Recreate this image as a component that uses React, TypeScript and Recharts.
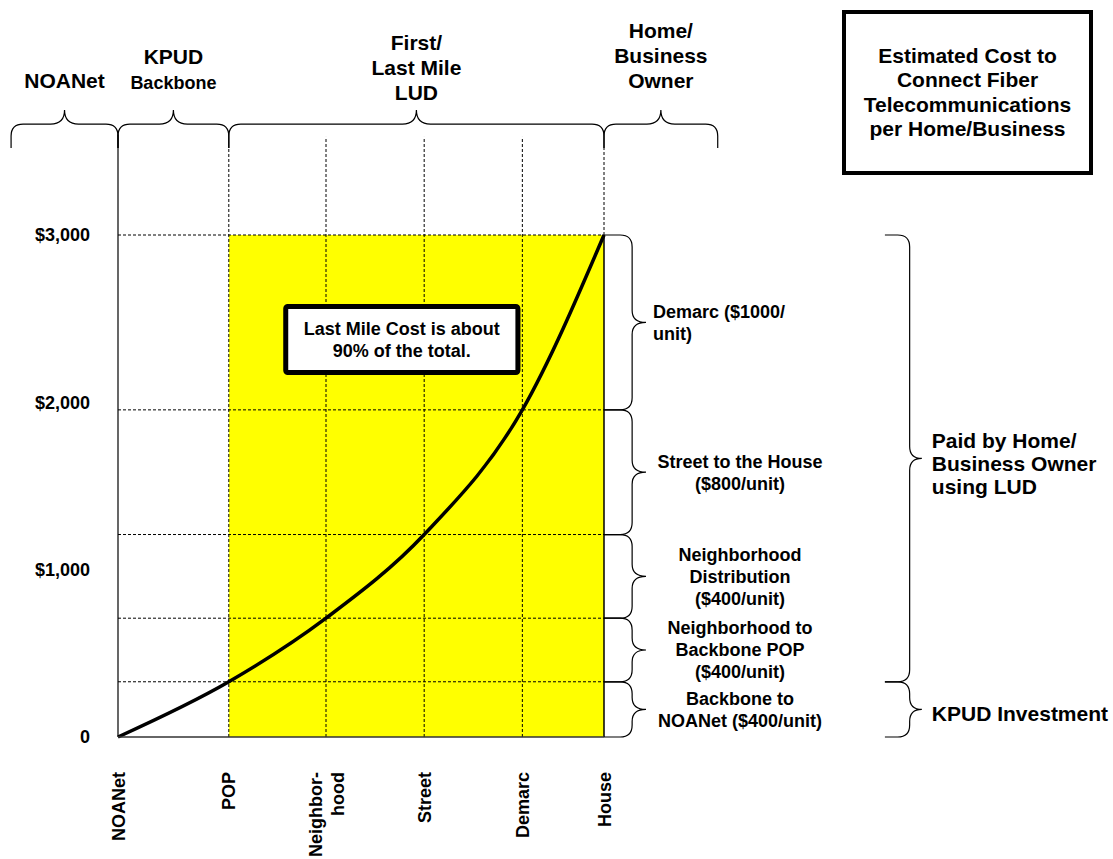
import React from "react";
import { LineChart, Line, XAxis, YAxis, ReferenceArea, ReferenceLine } from "recharts";

// ---- data ----
const stages = ["NOANet", "POP", "Neighbor-\nhood", "Street", "Demarc", "House"];
// where each stage sits on the x axis (NOANet = 0, House = 5)
const stagePos = [0, 1.14, 2.14, 3.15, 4.16, 5];
// cumulative cost per home/business once fiber reaches the stage ($)
const cumulativeCost = [0, 330, 710, 1210, 1955, 3000];
const costTicks = [0, 1000, 2000, 3000];

// one label per cost step, from NOANet->POP (bottom) up to Demarc->House (top)
const stepLabels = [
  ["Backbone to", "NOANet ($400/unit)"],
  ["Neighborhood to", "Backbone POP", "($400/unit)"],
  ["Neighborhood", "Distribution", "($400/unit)"],
  ["Street to the House", "($800/unit)"],
  ["Demarc ($1000/", "unit)"],
];

const payerLabels = [["KPUD Investment"], ["Paid by Home/", "Business Owner", "using LUD"]];
const payerStages = [0, 1, 5]; // stage index where each payer group starts / ends

const phaseLabels = [["NOANet"], ["KPUD", "Backbone"], ["First/", "Last Mile", "LUD"], ["Home/", "Business", "Owner"]];
const phaseEdges = [-1.1, stagePos[0], stagePos[1], stagePos[5], 6.17];

const noteLines = ["Last Mile Cost is about", "90% of the total."];
const titleLines = ["Estimated Cost to", "Connect Fiber", "Telecommunications", "per Home/Business"];

const chartData = stages.map((s, i) => ({ stage: s, x: stagePos[i], cost: cumulativeCost[i] }));

// ---- layout (annotation geometry lives outside the plot, in axis units) ----
const FONT = '"Liberation Sans", Arial, Helvetica, sans-serif';
const HOUSE = stagePos[stagePos.length - 1];
const TOP_BRACE: [number, number] = [3520, 3747];
const GRID_TOP = 3586;
const EDGE_TOP = 3520;
const AXIS_TOP = 3600;
const STEP_BRACE_W = 0.432;
const PAYER_BRACE_X: [number, number] = [7.89, 8.27];
const NOTE_X: [number, number] = [1.7, 4.14];
const NOTE_Y: [number, number] = [2163, 2588];
const PHASE_GAP = [22, 21, 10, 22];
const STEP_ALIGN = ["middle", "middle", "middle", "middle", "start"];
const PAYER_SHIFT = [4, 5];

function sideBracePath(x: number, y: number, w: number, h: number) {
  const vx = x + w * 0.67;
  const tx = x + w;
  const cy = y + h / 2;
  const r = Math.min(12, h / 4, vx - x);
  const t = Math.min(12, h / 4);
  return `M${x},${y} L${vx - r},${y} Q${vx},${y} ${vx},${y + r} L${vx},${cy - t} Q${vx},${cy} ${tx},${cy} Q${vx},${cy} ${vx},${cy + t} L${vx},${y + h - r} Q${vx},${y + h} ${vx - r},${y + h} L${x},${y + h}`;
}

function topBracePath(x: number, y: number, w: number, h: number) {
  const hy = y + h * 0.37;
  const cx = x + w / 2;
  const r = Math.min(12, w / 4);
  const t = Math.min(14, w / 4);
  return `M${x},${y + h} L${x},${hy + r} Q${x},${hy} ${x + r},${hy} L${cx - t},${hy} Q${cx},${hy} ${cx},${y} Q${cx},${hy} ${cx + t},${hy} L${x + w - r},${hy} Q${x + w},${hy} ${x + w},${hy + r} L${x + w},${y + h}`;
}

function PhaseBrace({ x, y, width, height, lines, gap }: any) {
  const cx = x + width / 2;
  return (
    <g>
      <path d={topBracePath(x, y, width, height)} fill="none" stroke="#000" strokeWidth={1.2} />
      <text textAnchor="middle" fontWeight={700} fill="#000">
        {lines.map((l: string, k: number) => (
          <tspan key={k} x={cx} y={y - gap - (lines.length - 1 - k) * 25} fontSize={l === "Backbone" ? 18 : 21}>
            {l}
          </tspan>
        ))}
      </text>
    </g>
  );
}

function StepBrace({ x, y, width, height, lines, align }: any) {
  const cy = y + height / 2;
  const tx = align === "start" ? x + width + 7 : x + width + 94;
  const first = cy - ((lines.length - 1) * 22) / 2 + 6.5;
  return (
    <g>
      <path d={sideBracePath(x, y, width, height)} fill="none" stroke="#000" strokeWidth={1.2} />
      <text textAnchor={align} fontSize={18} fontWeight={700} fill="#000">
        {lines.map((l: string, k: number) => (
          <tspan key={k} x={tx} y={first + k * 22}>
            {l}
          </tspan>
        ))}
      </text>
    </g>
  );
}

function PayerBrace({ x, y, width, height, lines, shift }: any) {
  const cy = y + height / 2 + shift;
  const first = cy - ((lines.length - 1) * 23) / 2 + 7.5;
  return (
    <g>
      <path d={sideBracePath(x, y, width, height)} fill="none" stroke="#000" strokeWidth={1.2} />
      <text fontSize={21} fontWeight={700} fill="#000">
        {lines.map((l: string, k: number) => (
          <tspan key={k} x={x + width + 10} y={first + k * 23}>
            {l}
          </tspan>
        ))}
      </text>
    </g>
  );
}

function NoteBox({ x, y, width, height }: any) {
  const cx = x + width / 2;
  const cy = y + height / 2;
  return (
    <g>
      <rect x={x + 2.5} y={y + 2.5} width={width - 5} height={height - 5} rx={2} fill="#fff" stroke="#000" strokeWidth={5} />
      <text textAnchor="middle" fontSize={18} fontWeight={700} fill="#000">
        {noteLines.map((l, k) => (
          <tspan key={k} x={cx} y={cy - 11 + 6.5 + k * 22}>
            {l}
          </tspan>
        ))}
      </text>
    </g>
  );
}

function StageTick({ x, y, payload }: any) {
  const i = stagePos.indexOf(payload.value);
  const lines = (stages[i] ?? "").split("\n");
  const lh = 22;
  const start = 6.5 - ((lines.length - 1) * lh) / 2;
  return (
    <g transform={`translate(${x},${y})`}>
      <text transform="rotate(-90)" textAnchor="end" fontSize={18} fontWeight={700} fill="#000">
        {lines.map((l, k) => (
          <tspan key={k} x={0} y={start + k * lh}>
            {l}
          </tspan>
        ))}
      </text>
    </g>
  );
}

const dotted = { stroke: "#000", strokeWidth: 1, strokeDasharray: "3 2" };

export default function App() {
  return (
    <div style={{ position: "absolute", left: 0, top: 0, width: 1113, height: 859, fontFamily: FONT, background: "#fff" }}>
      <LineChart width={1113} height={859} data={chartData} margin={{ top: 235, right: 509, bottom: 12, left: 38 }}>
        <XAxis
          dataKey="x"
          type="number"
          domain={[0, HOUSE]}
          ticks={stagePos}
          interval={0}
          height={110}
          tickSize={0}
          tickMargin={35}
          tickLine={false}
          axisLine={{ stroke: "#333", strokeWidth: 1.5 }}
          tick={(p: any) => <StageTick {...p} />}
        />
        <YAxis
          type="number"
          domain={[0, 3000]}
          ticks={costTicks}
          width={80}
          tickSize={0}
          tickMargin={28}
          axisLine={false}
          tickLine={false}
          tick={{ fontSize: 18, fontWeight: 700, fill: "#000" }}
          tickFormatter={(v: number) => (v === 0 ? "0" : `$${v.toLocaleString("en-US")}`)}
        />

        {/* last-mile span */}
        <ReferenceArea x1={stagePos[1]} x2={HOUSE} y1={0} y2={3000} fill="#FFFF00" fillOpacity={1} stroke="none" />

        {/* cost levels */}
        {cumulativeCost.slice(1).map((c, i) => (
          <ReferenceLine key={`h${i}`} segment={[{ x: 0, y: c }, { x: HOUSE, y: c }]} {...dotted} />
        ))}

        {/* stage verticals */}
        <ReferenceLine segment={[{ x: 0, y: 0 }, { x: 0, y: AXIS_TOP }]} stroke="#000" strokeWidth={1.2} ifOverflow="visible" />
        <ReferenceLine segment={[{ x: stagePos[1], y: 0 }, { x: stagePos[1], y: EDGE_TOP }]} {...dotted} ifOverflow="visible" />
        {stagePos.slice(2, 5).map((p, i) => (
          <ReferenceLine key={`v${i}`} segment={[{ x: p, y: 0 }, { x: p, y: GRID_TOP }]} {...dotted} ifOverflow="visible" />
        ))}
        <ReferenceLine segment={[{ x: HOUSE, y: 3000 }, { x: HOUSE, y: EDGE_TOP }]} {...dotted} ifOverflow="visible" />
        <ReferenceLine segment={[{ x: HOUSE, y: 0 }, { x: HOUSE, y: 3000 }]} stroke="#000" strokeWidth={1.5} />

        <Line type="monotone" dataKey="cost" stroke="#000" strokeWidth={3.5} dot={false} activeDot={false} isAnimationActive={false} />

        {/* phase braces along the top */}
        {phaseLabels.map((lines, i) => (
          <ReferenceArea
            key={`ph${i}`}
            x1={phaseEdges[i]}
            x2={phaseEdges[i + 1]}
            y1={TOP_BRACE[0]}
            y2={TOP_BRACE[1]}
            ifOverflow="visible"
            shape={(p: any) => <PhaseBrace {...p} lines={lines} gap={PHASE_GAP[i]} />}
          />
        ))}

        {/* per-step braces at the right of the plot */}
        {stepLabels.map((lines, i) => (
          <ReferenceArea
            key={`st${i}`}
            x1={HOUSE}
            x2={HOUSE + STEP_BRACE_W}
            y1={cumulativeCost[i]}
            y2={cumulativeCost[i + 1]}
            ifOverflow="visible"
            shape={(p: any) => <StepBrace {...p} lines={lines} align={STEP_ALIGN[i]} />}
          />
        ))}

        {/* who pays */}
        {payerLabels.map((lines, i) => (
          <ReferenceArea
            key={`pay${i}`}
            x1={PAYER_BRACE_X[0]}
            x2={PAYER_BRACE_X[1]}
            y1={cumulativeCost[payerStages[i]]}
            y2={cumulativeCost[payerStages[i + 1]]}
            ifOverflow="visible"
            shape={(p: any) => <PayerBrace {...p} lines={lines} shift={PAYER_SHIFT[i]} />}
          />
        ))}

        <ReferenceArea
          x1={NOTE_X[0]}
          x2={NOTE_X[1]}
          y1={NOTE_Y[0]}
          y2={NOTE_Y[1]}
          zIndex={700}
          shape={(p: any) => <NoteBox {...p} />}
        />
      </LineChart>

      <div
        style={{
          position: "absolute",
          left: 842,
          top: 10,
          width: 251,
          height: 165,
          boxSizing: "border-box",
          border: "4px solid #000",
          display: "flex",
          flexDirection: "column",
          alignItems: "center",
          justifyContent: "center",
          textAlign: "center",
          fontWeight: 700,
          fontSize: 21,
          lineHeight: "24.5px",
          color: "#000",
        }}
      >
        {titleLines.map((l) => (
          <div key={l}>{l}</div>
        ))}
      </div>
    </div>
  );
}
